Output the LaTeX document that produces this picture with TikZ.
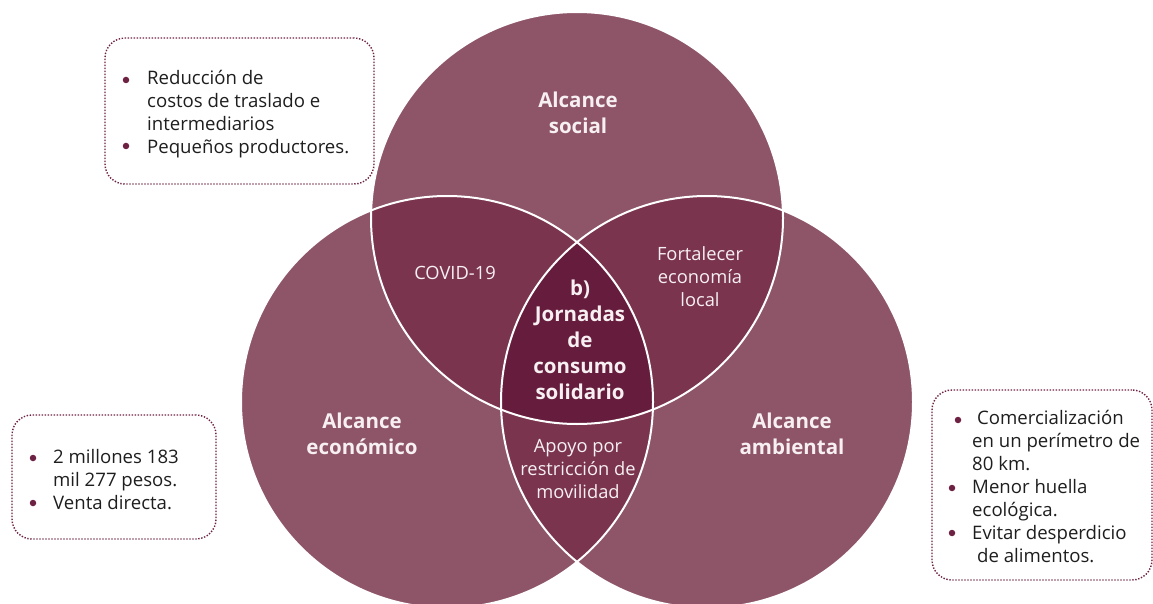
\documentclass[tikz,border=0pt]{standalone}
\usepackage{fontspec}
\setmainfont{Open Sans}
\usetikzlibrary{positioning}
\definecolor{vinolight}{HTML}{8E5468}
\definecolor{vinomid}{HTML}{7A344E}
\definecolor{vinodark}{HTML}{661C3C}
\definecolor{vinodot}{HTML}{6E2243}
\definecolor{inkgray}{HTML}{1E1E1E}
\definecolor{pinkwhite}{HTML}{F7F0F2}
\tikzset{
  ring/.style={draw=white,line width=2pt},
  circlabel/.style={text=pinkwhite,align=center,anchor=north,inner sep=0pt,font=\bfseries\fontsize{20.5}{26}\selectfont},
  lenslabel/.style={text=pinkwhite,align=center,anchor=north,inner sep=0pt,font=\fontsize{18.3}{23.3}\selectfont},
  notebox/.style={draw=vinodot,line width=1.4pt,dash pattern=on 1.4pt off 1.6pt,rounded corners=20pt,inner sep=0pt},
  notetext/.style={text=inkgray,align=left,anchor=north west,inner sep=0pt,font=\fontsize{18.6}{23}\selectfont},
  bullet/.style={circle,fill=vinodot,inner sep=0pt,minimum size=6.5pt}
}
\begin{document}
\begin{tikzpicture}[x=1pt,y=-1pt]
\useasboundingbox (0,0) rectangle (1153,604);
\coordinate (social) at (577,218);
\coordinate (econ) at (447,402);
\coordinate (amb) at (707,402);
% the three circles
\fill[vinolight] (social) circle (206pt);
\fill[vinolight] (econ) circle (206pt);
\fill[vinolight] (amb) circle (206pt);
\begin{scope}
  \clip (social) circle (206pt);
  \fill[vinomid] (econ) circle (206pt);
  \fill[vinomid] (amb) circle (206pt);
\end{scope}
\begin{scope}
  \clip (econ) circle (206pt);
  \fill[vinomid] (amb) circle (206pt);
\end{scope}
\begin{scope}
  \clip (social) circle (206pt);
  \clip (econ) circle (206pt);
  \fill[vinodark] (amb) circle (206pt);
\end{scope}
\draw[ring] (social) circle (206pt);
\draw[ring] (econ) circle (206pt);
\draw[ring] (amb) circle (206pt);
% labels
\node[circlabel] (lsocial) at (578,92) {Alcance\\social};
\node[circlabel] (lecon) at (362,413) {Alcance\\económico};
\node[circlabel] (lamb) at (792,413) {Alcance\\ambiental};
\node[circlabel] (center) at (580,280) {b)\\Jornadas\\de\\consumo\\solidario};
\node[lenslabel] (covid) at (455,266) {COVID-19};
\node[lenslabel] (fortalecer) at (700,246) {Fortalecer\\economía\\local};
\node[lenslabel] (apoyo) at (578,439) {Apoyo por\\restricción de\\movilidad};
% note boxes
\node[notebox,minimum width=269pt,minimum height=146pt] (box1) at (239.5,111) {};
\node[notebox,minimum width=204pt,minimum height=124pt] (box2) at (114,477) {};
\node[notebox,minimum width=220pt,minimum height=190pt] (box3) at (1042,485) {};
\node[notetext] (t1) at (147,70) {Reducción de\\costos de traslado e\\intermediarios\\Pequeños productores.};
\node[notetext] (t2) at (53,449) {2 millones 183\\mil 277 pesos.\\Venta directa.};
\node[notetext] (t3) at (972,410) {\hspace{5pt}Comercialización\\en un perímetro de\\80 km.\\Menor huella\\ecológica.\\Evitar desperdicio\\\hspace{5pt}de alimentos.};
\node[bullet] (b11) at (126,80) {};
\node[bullet] (b12) at (126,146) {};
\node[bullet] (b21) at (33,458) {};
\node[bullet] (b22) at (33,503) {};
\node[bullet] (b31) at (958,420) {};
\node[bullet] (b32) at (952,488) {};
\node[bullet] (b33) at (952,533) {};
\end{tikzpicture}
\end{document}
